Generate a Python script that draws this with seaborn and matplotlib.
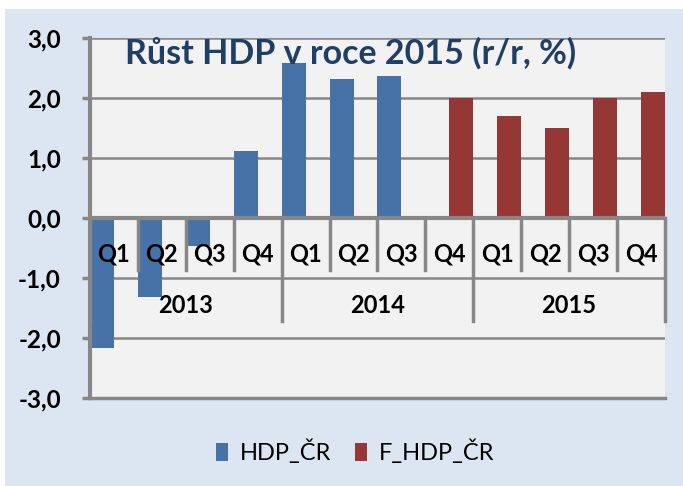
import pandas as pd
import seaborn as sns
import matplotlib.pyplot as plt
from matplotlib.patches import Rectangle, Patch

plt.rcParams['font.family'] = ['Lato', 'DejaVu Sans']

years = ['2013', '2014', '2015']
quarters = ['Q1', 'Q2', 'Q3', 'Q4']
periods = [f'{y} {q}' for y in years for q in quarters]

# actual growth (HDP_ČR) and forecast (F_HDP_ČR), y/y in %
hdp_periods = periods[:7]
hdp_cr = [-2.17, -1.31, -0.46, 1.11, 2.58, 2.32, 2.36]
f_periods = periods[7:]
f_hdp_cr = [2.0, 1.7, 1.5, 2.0, 2.1]

series_names = ['HDP_ČR', 'F_HDP_ČR']
colors = {'HDP_ČR': '#4672a8', 'F_HDP_ČR': '#953735'}
grid_color = '#878787'

df = pd.concat([
    pd.DataFrame({'period': hdp_periods, 'value': hdp_cr, 'series': 'HDP_ČR'}),
    pd.DataFrame({'period': f_periods, 'value': f_hdp_cr, 'series': 'F_HDP_ČR'}),
])

fig = plt.figure(figsize=(6.83, 4.86), dpi=100)
fig.patch.set_facecolor('white')
fig.patches.append(Rectangle((5 / 683, 0), 1 - 5 / 683, 1 - 9 / 486, transform=fig.transFigure,
                             facecolor='#dce6f2', edgecolor='none', zorder=-10))
ax = fig.add_axes([90 / 683, 1 - 398 / 486, 575 / 683, 360 / 486])
ax.set_facecolor('#f2f2f2')

sns.barplot(data=df, x='period', y='value', hue='series', order=periods, hue_order=series_names,
            palette=colors, width=1.0, gap=0, dodge=True, saturation=1, legend=False,
            errorbar=None, ax=ax, zorder=2)

ax.set_xlim(-0.5, len(periods) - 0.5)
ax.set_ylim(-3, 3)
yt = list(range(-3, 4))
ax.set_yticks(yt)
ax.set_yticklabels([f'{v:.1f}'.replace('.', ',') for v in yt], fontsize=17.5, fontweight='bold')
ax.tick_params(axis='y', length=6, width=2.5, color=grid_color, pad=15)
ax.tick_params(axis='x', bottom=False, labelbottom=False)
ax.set_xlabel('')
ax.set_ylabel('')

ax.set_axisbelow(True)
ax.yaxis.grid(True, color=grid_color, lw=1.8)
ax.xaxis.grid(False)
for s in ['top', 'right', 'bottom']:
    ax.spines[s].set_visible(False)
ax.spines['left'].set_color(grid_color)
ax.spines['left'].set_linewidth(3)
ax.axhline(-3, color=grid_color, lw=2.5, clip_on=False, zorder=1)
ax.axhline(0, color=grid_color, lw=3, zorder=3)

# multi-level category axis below the zero line
for i in range(len(periods) + 1):
    x = i - 0.5
    if i % 4 == 0:
        ax.plot([x, x], [0, -1.72], color=grid_color, lw=2.5, zorder=3, clip_on=False)
    else:
        ax.plot([x, x], [0, -0.87], color=grid_color, lw=2.5, zorder=3)
for i, p in enumerate(periods):
    ax.text(i, -0.6, p.split()[1], ha='center', va='center', fontsize=17, fontweight='bold', zorder=4)
for j, y in enumerate(years):
    ax.text(4 * j + 1.5, -1.45, y, ha='center', va='center', fontsize=17, fontweight='bold', zorder=4)

ax.text(0.454, 0.928, 'Růst HDP v roce 2015 (r/r, %)', transform=ax.transAxes, ha='center',
        va='baseline', fontsize=24.5, fontweight='bold', color='#203f66', zorder=5)

handles = [Patch(facecolor=colors[s], edgecolor='none') for s in series_names]
fig.legend(handles, series_names, loc='center', bbox_to_anchor=(0.52, 0.07), ncol=2, frameon=False,
           fontsize=17, handlelength=0.5, handleheight=0.75, handletextpad=0.5, columnspacing=1.0)

fig.savefig('out.png', dpi=100)
